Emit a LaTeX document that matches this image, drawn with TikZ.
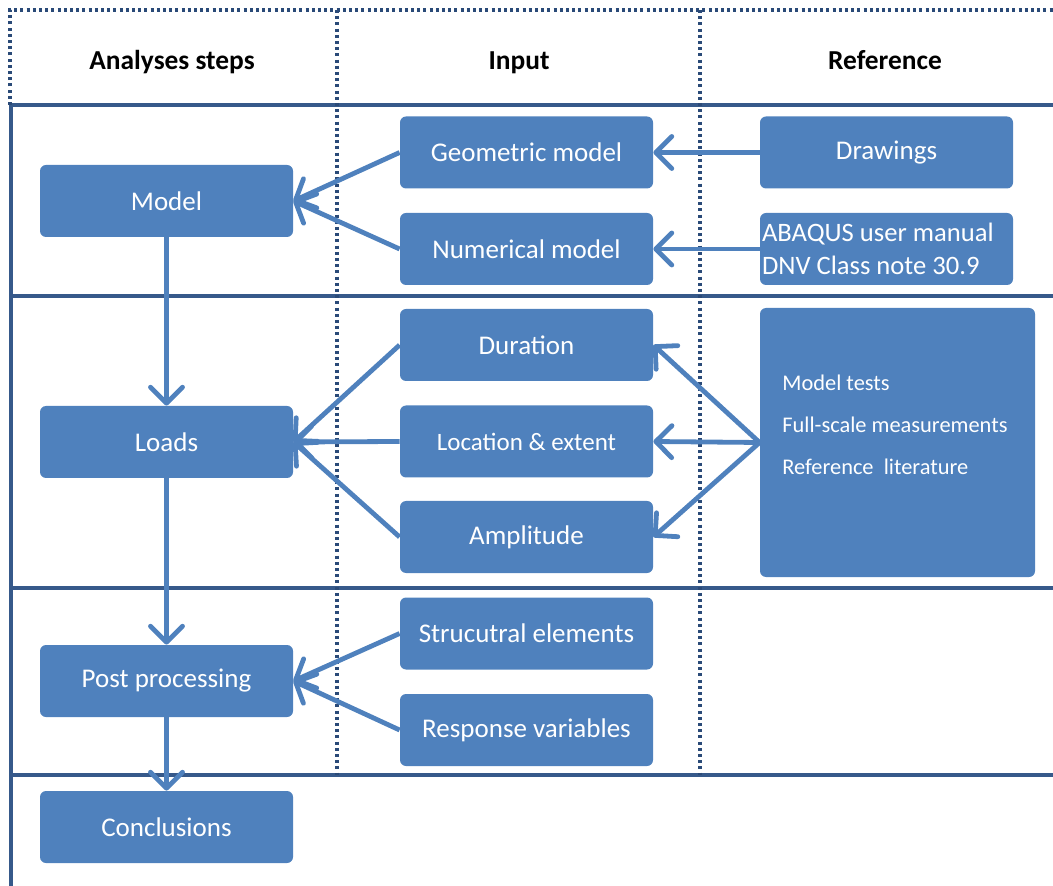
\documentclass[tikz,border=0pt]{standalone}
\usepackage{fontspec}
\setmainfont{Carlito}
\usetikzlibrary{arrows.meta}
\definecolor{boxblue}{HTML}{4F81BD}
\definecolor{gridblue}{HTML}{36598A}
\definecolor{dotblue}{HTML}{2A4A78}

\begin{document}
\begin{tikzpicture}[x=0.5pt, y=-0.5pt,
		blockbox/.style={fill=boxblue, rounded corners=3pt, text=white, minimum width=126.5pt, minimum height=36pt, inner sep=1pt, font=\fontsize{13.5}{16}\selectfont},
		flow/.style={draw=boxblue, line width=2.4pt, line join=round, -{Straight Barb[length=8pt, width=16pt, line width=2.4pt, round]}},
		gridline/.style={draw=gridblue, line width=1.8pt},
		dotline/.style={draw=dotblue, line width=1.8pt, dash pattern=on 1.5pt off 1.6pt},
		header/.style={anchor=base, font=\bfseries\fontsize{13.7}{16}\selectfont}]
	\useasboundingbox (0, 0) rectangle (1053, 886);

	\foreach \y in {105, 296, 588, 775}{
			\draw[gridline] (10, \y) -- (1053, \y);
		}
	\draw[gridline] (11, 105) -- (11, 886);
	\draw[dotline] (10, 105) -- (10, 10) -- (1053, 10);
	\foreach \x in {337, 700}{
			\draw[dotline] (\x, 10) -- (\x, 775);
		}

	\node[header] (hsteps) at (172, 70) {Analyses steps};
	\node[header] (hinput) at (519, 70) {Input};
	\node[header] (hrefs) at (885, 70) {Reference};

	% analyses steps
	\node[blockbox] (model) at (166.5, 201) {Model};
	\node[blockbox] (loads) at (166.5, 442) {Loads};
	\node[blockbox] (post) at (166.5, 681) {Post processing};
	\node[blockbox] (concl) at (166.5, 827) {Conclusions};

	% input
	\node[blockbox] (geo) at (526.5, 152.5) {Geometric model};
	\node[blockbox] (num) at (526.5, 249) {Numerical model};
	\node[blockbox] (dur) at (526.5, 345) {Duration};
	\node[blockbox, font=\fontsize{12.5}{15}\selectfont] (loc) at (526.5, 441.5) {Location \& extent};
	\node[blockbox] (amp) at (526.5, 537) {Amplitude};
	\node[blockbox] (struc) at (526.5, 633.5) {Strucutral elements};
	\node[blockbox] (resp) at (526.5, 730) {Response variables};

	% reference
	\node[blockbox] (drw) at (886.5, 152.5) {Drawings};
	\node[blockbox, align=flush left, text width=124.5pt, font=\fontsize{13.3}{16.5}\selectfont] (abq) at (886.5, 249) {ABAQUS user manual\\DNV Class note 30.9};
	\node[blockbox, minimum width=137.5pt, minimum height=134.5pt] (refs) at (897.5, 442.5) {};
	\node[anchor=west, align=flush left, text=white, inner sep=0pt, font=\fontsize{11.2}{21}\selectfont] (reflist) at (782, 425) {Model tests\\Full-scale measurements\\Reference\ \ literature};

	\draw[flow] (geo.west) -- (model.east);
	\draw[flow] (num.west) -- (model.east);
	\draw[flow] (drw.west) -- (geo.east);
	\draw[flow] (abq.west) -- (num.east);
	\foreach \n in {dur, loc, amp}{
			\draw[flow] (\n.west) -- (loads.east);
			\draw[flow] (refs.west) -- (\n.east);
		}
	\draw[flow] (struc.west) -- (post.east);
	\draw[flow] (resp.west) -- (post.east);

	\draw[flow] (model.south) -- (loads.north);
	\draw[flow] (loads.south) -- (post.north);
	\draw[flow] (post.south) -- (concl.north);
\end{tikzpicture}
\end{document}
